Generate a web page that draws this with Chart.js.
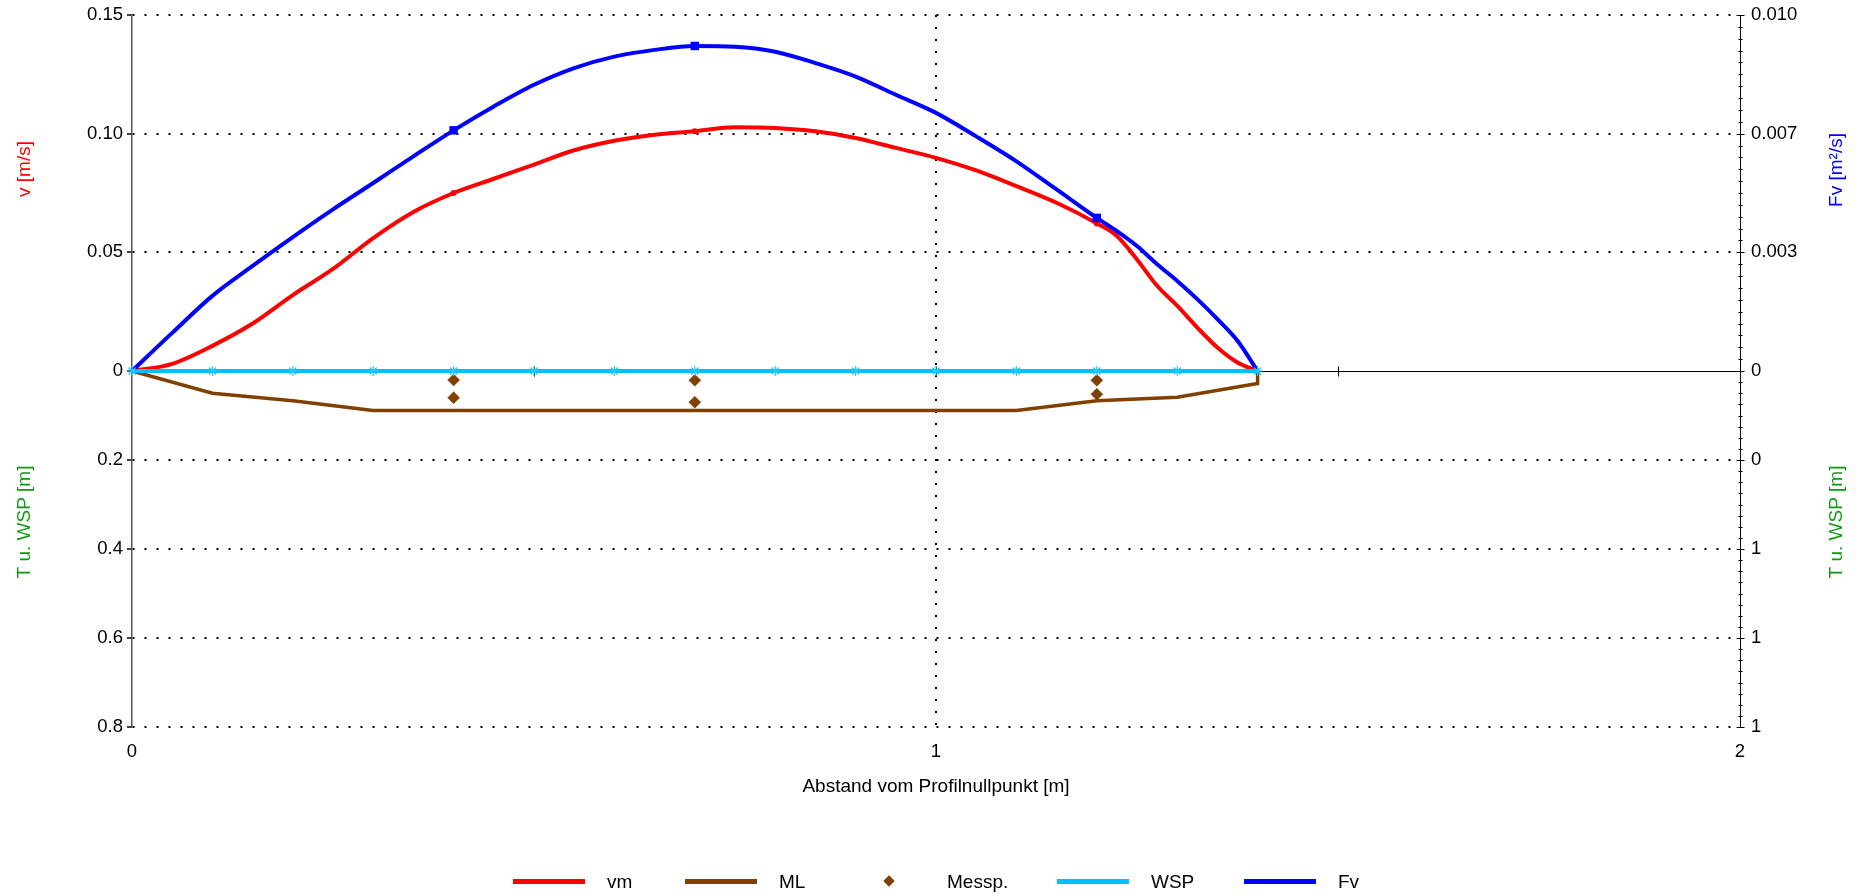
<!DOCTYPE html>
<html><head><meta charset="utf-8">
<script src="https://cdn.jsdelivr.net/npm/chart.js@4.4.1/dist/chart.umd.min.js"></script>
<style>
html,body{margin:0;padding:0;background:#fff;}
#wrap{position:relative;width:1860px;height:896px;overflow:hidden;background:#fff;}
#c{position:absolute;left:0;top:0;}
.lgt{position:absolute;font-family:"Liberation Sans",Arial,sans-serif;font-size:19px;line-height:22px;color:#000;white-space:nowrap;}
.lgl{position:absolute;height:5px;width:72px;}
.lgd{position:absolute;width:8px;height:8px;transform:rotate(45deg);}
</style></head><body>
<div id="wrap"><canvas id="c" width="1860" height="896"></canvas><div id="legend"></div></div>
<script>
// ---- data ----
const profX   = [0, 0.05, 0.1, 0.15, 0.2, 0.25, 0.3, 0.35, 0.4, 0.45, 0.5, 0.55, 0.6, 0.65, 0.7, 0.75, 0.8, 0.85, 0.9, 0.95, 1.0, 1.05, 1.1, 1.15, 1.2, 1.225, 1.25, 1.275, 1.3, 1.325, 1.35, 1.375, 1.4];
const vmValues = [0, 0.003, 0.0106, 0.020, 0.032, 0.043, 0.056, 0.067, 0.075, 0.081, 0.087, 0.093, 0.097, 0.0995, 0.101, 0.1027, 0.1024, 0.101, 0.0982, 0.094, 0.0898, 0.0845, 0.0779, 0.0709, 0.0622, 0.0569, 0.047, 0.0359, 0.0275, 0.0183, 0.0099, 0.0036, 0];
const fvValues = [0, 0.00107, 0.00211, 0.00295, 0.00376, 0.00454, 0.00528, 0.00603, 0.00676, 0.00743, 0.00804, 0.00851, 0.00883, 0.00902, 0.00913, 0.00911, 0.00897, 0.00865, 0.00827, 0.00776, 0.00725, 0.00659, 0.00589, 0.0051, 0.0043, 0.00393, 0.00351, 0.0030, 0.00253, 0.00202, 0.00146, 0.00085, 0];
const mlX     = [0, 0.1, 0.2, 0.3, 0.4, 0.5, 0.6, 0.7, 0.8, 0.9, 1.0, 1.1, 1.2, 1.3, 1.4, 1.4];
const mlDepth = [0, 0.05, 0.067, 0.089, 0.089, 0.089, 0.089, 0.089, 0.089, 0.089, 0.089, 0.089, 0.067, 0.059, 0.028, 0];
const messX     = [0.4, 0.4, 0.7, 0.7, 1.2, 1.2];
const messDepth = [0.02, 0.06, 0.021, 0.07, 0.021, 0.052];
const wspX     = [0, 0.1, 0.2, 0.3, 0.4, 0.5, 0.6, 0.7, 0.8, 0.9, 1.0, 1.1, 1.2, 1.3, 1.4];
const wspDepth = [0, 0, 0, 0, 0, 0, 0, 0, 0, 0, 0, 0, 0, 0, 0];
const markerX  = [0.4, 0.7, 1.2];
const vTickValues  = [0, 0.05, 0.10, 0.15];
const vTickLabels  = ['0', '0.05', '0.10', '0.15'];
const depthTickValues = [0.2, 0.4, 0.6, 0.8];
const depthTickLabels = ['0.2', '0.4', '0.6', '0.8'];
const depthRightLabels = ['0', '1', '1', '1'];
const fvMax = 0.010;
const fvTickValues = [0, fvMax / 3, 2 * fvMax / 3, fvMax];
const fvTickLabels = ['0', '0.003', '0.007', '0.010'];
const zeroLineTicks = [0.5, 1.0, 1.5];
const legendLabels = ['vm', 'ML', 'Messp.', 'WSP', 'Fv'];

// ---- styling ----
const FONT = '"Liberation Sans", Arial, sans-serif';
Chart.defaults.font.family = FONT;
Chart.defaults.font.size = 18.5;
Chart.defaults.color = '#000';
const RED = '#ff0000', BROWN = '#804000', CYAN = '#00bfff', BLUE = '#0000ff', GREEN = '#119911';

const zip = (xs, ys) => xs.map((x, i) => ({x: x, y: ys[i]}));
const isMarker = x => markerX.some(m => Math.abs(m - x) < 1e-9);
const setTicks = vals => s => { s.ticks = vals.map(v => ({value: v})); };
const fitWidth = w => s => { s.width = w; s.paddingTop = 0; s.paddingBottom = 0; };
const CLEAR = 'rgba(0,0,0,0)';

const decor = {
  id: 'decor',
  beforeDatasetsDraw(chart) {
    const {ctx, chartArea: a, scales: {x, yV}} = chart;
    const y0 = Math.round(yV.getPixelForValue(0)) + 0.5;
    ctx.save();
    ctx.strokeStyle = '#000'; ctx.lineWidth = 1;
    ctx.beginPath();
    ctx.moveTo(a.left, y0); ctx.lineTo(a.right, y0);
    zeroLineTicks.forEach(v => {
      const px = Math.round(x.getPixelForValue(v)) + 0.5;
      ctx.moveTo(px, y0 - 5); ctx.lineTo(px, y0 + 5);
    });
    ctx.stroke();
    ctx.restore();
  },
  afterDraw(chart) {
    const {ctx, scales: {yV, yT, yFv, yT2}} = chart;
    const ax = Math.round(yFv.left) + 0.5;
    ctx.save();
    ctx.strokeStyle = '#000'; ctx.lineWidth = 1;
    ctx.beginPath();
    const tick = (py, len) => { const p = Math.round(py) + 0.5; ctx.moveTo(ax - len, p); ctx.lineTo(ax + len, p); };
    for (let i = 0; i <= 30; i++) tick(yFv.getPixelForValue(i * fvMax / 30), 2);
    for (let j = 0; j <= 32; j++) tick(yT2.getPixelForValue(j * 0.025), 2);
    fvTickValues.forEach(v => tick(yFv.getPixelForValue(v), 4));
    depthTickValues.forEach(v => tick(yT2.getPixelForValue(v), 4));
    ctx.stroke();
    // axis titles
    ctx.font = '19px ' + FONT;
    ctx.textAlign = 'center'; ctx.textBaseline = 'middle';
    const title = (text, color, x, y) => {
      ctx.save(); ctx.translate(x, y); ctx.rotate(-Math.PI / 2);
      ctx.fillStyle = color; ctx.fillText(text, 0, 0); ctx.restore();
    };
    const leftX = yV.left + 25, rightX = yFv.right - 23;
    title('v [m/s]', RED, leftX, (yV.top + yV.bottom) / 2 - 24);
    title('T u. WSP [m]', GREEN, leftX, (yT.top + yT.bottom) / 2 - 27);
    title('Fv [m\u00b2/s]', BLUE, rightX, (yFv.top + yFv.bottom) / 2 - 23);
    title('T u. WSP [m]', GREEN, rightX, (yT2.top + yT2.bottom) / 2 - 27);
    ctx.restore();
  }
};

const leftGrid = {color: '#000', lineWidth: 2, tickLength: 5, tickWidth: 1.5, tickColor: '#000'};
const leftBorder = {color: '#555', width: 1.5, dash: [2, 10]};

const chart = new Chart(document.getElementById('c'), {
  type: 'line',
  data: {
    datasets: [
      {label: 'WSP', data: zip(wspX, wspDepth), yAxisID: 'yT', clip: false, borderColor: CYAN, backgroundColor: CYAN,
       borderWidth: 4, pointStyle: 'star', pointRadius: 5, pointBorderWidth: 1.2, pointBorderColor: '#22c8ff', order: 0},
      {label: 'Fv', data: zip(profX, fvValues), yAxisID: 'yFv', clip: false, borderColor: BLUE, backgroundColor: BLUE,
       borderWidth: 4, cubicInterpolationMode: 'monotone', pointStyle: 'rect',
       pointRadius: c => isMarker(c.raw.x) ? 6 : 0, pointBorderWidth: 0, order: 1},
      {label: 'vm', data: zip(profX, vmValues), yAxisID: 'yV', clip: false, borderColor: RED, backgroundColor: RED,
       borderWidth: 4, cubicInterpolationMode: 'monotone',
       pointRadius: c => isMarker(c.raw.x) ? 3 : 0, pointBorderWidth: 0, order: 2},
      {label: 'Messp.', data: zip(messX, messDepth), yAxisID: 'yT', clip: false, showLine: false, pointStyle: 'rectRot',
       pointRadius: 6, backgroundColor: BROWN, borderColor: BROWN, pointBorderWidth: 0.5, order: 3},
      {label: 'ML', data: zip(mlX, mlDepth), yAxisID: 'yT', clip: false, borderColor: BROWN, backgroundColor: BROWN,
       borderWidth: 3.5, pointRadius: 0, order: 4}
    ]
  },
  options: {
    responsive: false, animation: false,
    layout: {padding: {top: 15, left: 0, right: 0, bottom: 0}},
    plugins: {legend: {display: false}, tooltip: {enabled: false}},
    scales: {
      x: {type: 'linear', position: 'bottom', min: 0, max: 2,
          afterFit: s => { s.height = 169; },
          ticks: {stepSize: 1, padding: 14},
          grid: {drawTicks: false, lineWidth: 2, color: c => (c.tick && c.tick.value === 1) ? '#000' : CLEAR},
          border: {display: false, dash: [2, 10]},
          title: {display: true, text: 'Abstand vom Profilnullpunkt [m]', font: {size: 19}, padding: {top: 0, bottom: 97.6}}},
      yT: {type: 'linear', position: 'left', stack: 'left', stackWeight: 1, reverse: true, min: 0, max: 0.8,
           afterBuildTicks: setTicks(depthTickValues), afterFit: fitWidth(132),
           ticks: {autoSkip: false, padding: 4, callback: (v, i) => depthTickLabels[i]},
           grid: leftGrid, border: leftBorder},
      yV: {type: 'linear', position: 'left', stack: 'left', stackWeight: 1, min: 0, max: 0.15,
           afterBuildTicks: setTicks(vTickValues), afterFit: fitWidth(132),
           ticks: {autoSkip: false, padding: 4, callback: (v, i) => vTickLabels[i]},
           grid: Object.assign({}, leftGrid, {color: c => (c.tick && c.tick.value === 0) ? CLEAR : '#000'}),
           border: leftBorder},
      yFv: {type: 'linear', position: 'right', stack: 'right', stackWeight: 1, min: 0, max: fvMax,
            afterBuildTicks: setTicks(fvTickValues), afterFit: fitWidth(120),
            ticks: {autoSkip: false, padding: 11, callback: (v, i) => fvTickLabels[i]},
            grid: {drawOnChartArea: false, drawTicks: false}, border: {color: '#000', width: 1}},
      yT2: {type: 'linear', position: 'right', stack: 'right', stackWeight: 1, reverse: true, min: 0, max: 0.8,
            afterBuildTicks: setTicks(depthTickValues), afterFit: fitWidth(120),
            ticks: {autoSkip: false, padding: 11, callback: (v, i) => depthRightLabels[i]},
            grid: {drawOnChartArea: false, drawTicks: false}, border: {color: '#000', width: 1}}
    }
  },
  plugins: [decor]
});

// ---- HTML legend ----
const legendColors = [RED, BROWN, BROWN, CYAN, BLUE];
const legendKinds = ['line', 'line', 'diamond', 'line', 'line'];
const legendLeft = [513, 685, 853, 1057, 1244];
const legendCY = 881;
const lg = document.getElementById('legend');
legendLabels.forEach((txt, i) => {
  const left = legendLeft[i];
  if (legendKinds[i] === 'line') {
    const d = document.createElement('div'); d.className = 'lgl';
    d.style.left = left + 'px'; d.style.top = (legendCY - 2.5) + 'px'; d.style.background = legendColors[i];
    lg.appendChild(d);
  } else {
    const d = document.createElement('div'); d.className = 'lgd';
    d.style.left = (left + 36 - 4) + 'px'; d.style.top = (legendCY - 4) + 'px'; d.style.background = legendColors[i];
    lg.appendChild(d);
  }
  const t = document.createElement('span'); t.className = 'lgt'; t.textContent = txt;
  t.style.left = (left + 94) + 'px'; t.style.top = (legendCY - 10) + 'px';
  lg.appendChild(t);
});
</script>
</body></html>
